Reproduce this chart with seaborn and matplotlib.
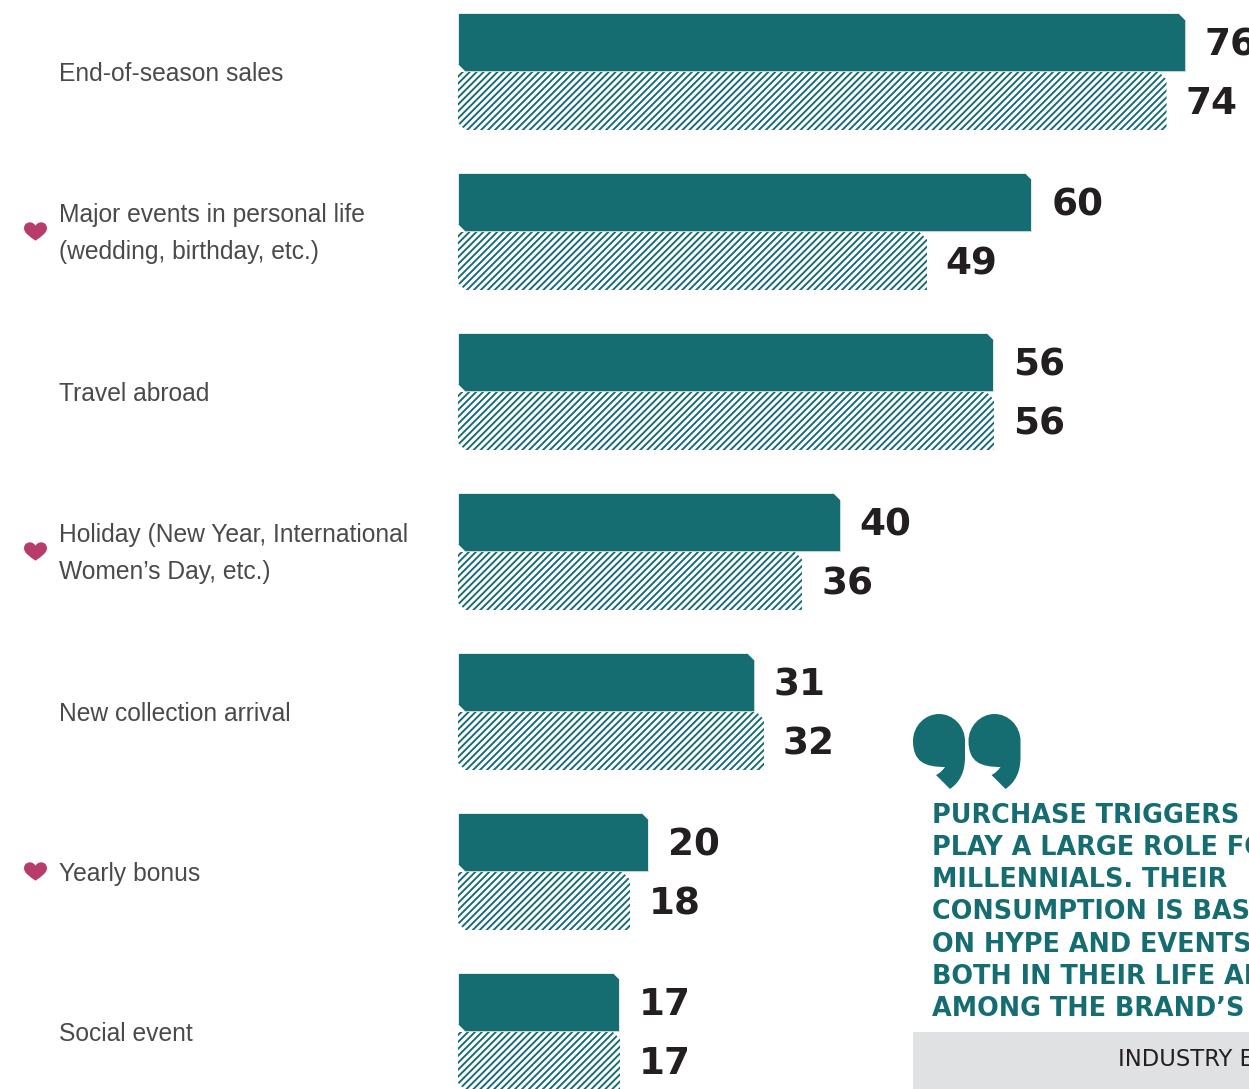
import matplotlib
matplotlib.use("Agg")
import matplotlib.pyplot as plt
from matplotlib.patches import PathPatch, Polygon, Rectangle
from matplotlib.path import Path
from matplotlib.transforms import ScaledTranslation, blended_transform_factory
import pandas as pd
import seaborn as sns

triggers = [
    "End-of-season sales",
    "Major events in personal life\n(wedding, birthday, etc.)",
    "Travel abroad",
    "Holiday (New Year, International\nWomen\u2019s Day, etc.)",
    "New collection arrival",
    "Yearly bonus",
    "Social event",
]
solid_values = [76, 60, 56, 40, 31, 20, 17]
hatched_values = [74, 49, 56, 36, 32, 18, 17]
heart_flags = [False, True, False, True, False, True, False]
quote_lines = [
    "PURCHASE TRIGGERS",
    "PLAY A LARGE ROLE FOR",
    "MILLENNIALS. THEIR",
    "CONSUMPTION IS BASED",
    "ON HYPE AND EVENTS",
    "BOTH IN THEIR LIFE AND",
    "AMONG THE BRAND\u2019S",
]
quote_source = "INDUSTRY EXPERT"

TEAL = "#156D72"
INK = "#231F20"
LABEL = "#4A4A4C"
ROSE = "#B93B69"
PANEL = "#E0E1E3"
W, H, DPI = 1249, 1089, 125

sns.set_theme(style="white")
plt.rcParams["hatch.linewidth"] = 1.1

frame = pd.DataFrame({
    "trigger": triggers * 2,
    "share": solid_values + hatched_values,
    "group": ["solid"] * len(triggers) + ["hatched"] * len(triggers),
})

fig = plt.figure(figsize=((W + 0.01) / DPI, (H + 0.01) / DPI), dpi=DPI, facecolor="white")
PX_PER_UNIT = 9.58
PX_PER_ROW = 160
AX_LEFT = 457.6
ax = fig.add_axes([AX_LEFT / W, 0, 1 - AX_LEFT / W, 1])
sns.barplot(
    data=frame, y="trigger", x="share", hue="group", orient="y", width=0.735,
    palette={"solid": TEAL, "hatched": "white"}, legend=False, ax=ax, saturation=1,
)
ax.set_xlim(0, (W - AX_LEFT) / PX_PER_UNIT)
ax.set_ylim((H - 71.6) / PX_PER_ROW, -71.6 / PX_PER_ROW)
ax.set_xlabel("")
ax.set_ylabel("")
ax.set_xticks([])
sns.despine(ax=ax, left=True, bottom=True)

# Row labels sit far left of the bars, flush to a common left edge.
ax.tick_params(axis="y", length=0, pad=(AX_LEFT - 59) * 72 / DPI)
nudge_down = ScaledTranslation(0, -2 / DPI, fig.dpi_scale_trans)
for tick in ax.get_yticklabels():
    tick.set_ha("left")
    tick.set_va("center")
    tick.set_fontfamily("Liberation Sans")
    tick.set_fontsize(14.2)
    tick.set_color(LABEL)
    tick.set_linespacing(1.71)
    tick.set_transform(tick.get_transform() + nudge_down)

solid, hatched = ax.containers[0], ax.containers[1]
for bar in hatched:
    bar.set_facecolor("white")
    bar.set_edgecolor(TEAL)
    bar.set_hatch("//////")
    bar.set_linewidth(0)

# Clip opposing corners of every bar so they read as cut tags.
cut_x, cut_y = 8 / PX_PER_UNIT, 8 / PX_PER_ROW
for bar in list(solid) + list(hatched):
    x0, y0 = bar.get_x(), bar.get_y()
    x1, y1 = x0 + bar.get_width(), y0 + bar.get_height()
    outline = Polygon(
        [(x0, y0), (x1 - cut_x, y0), (x1, y0 + cut_y), (x1, y1),
         (x0 + cut_x, y1), (x0, y1 - cut_y)],
        closed=True, transform=ax.transData,
    )
    bar.set_clip_path(outline)

for container in (solid, hatched):
    labels = ax.bar_label(container, padding=10.8, fontsize=21.5, fontweight="bold",
                          fontfamily="DejaVu Sans", color=INK, clip_on=False)
    for label in labels:
        label.xyann = (label.xyann[0], -1.6)

# Overlay in image-like pixel coordinates for the pull quote and row markers.
overlay = fig.add_axes([0, 0, 1, 1], facecolor="none")
overlay.set_xlim(0, W)
overlay.set_ylim(H, 0)
overlay.axis("off")

heart = Path(
    [(0, -0.8), (-0.5, -0.45), (-1, -0.15), (-1, 0.3), (-1, 0.65), (-0.72, 0.8), (-0.48, 0.8),
     (-0.25, 0.8), (-0.08, 0.65), (0, 0.5), (0.08, 0.65), (0.25, 0.8), (0.48, 0.8),
     (0.72, 0.8), (1, 0.65), (1, 0.3), (1, -0.15), (0.5, -0.45), (0, -0.8)],
    [Path.MOVETO] + [Path.CURVE4] * 18,
)
row_in_px = blended_transform_factory(overlay.transData, ax.transData)
for row, flagged in enumerate(heart_flags):
    if flagged:
        overlay.plot([34.5], [row - 0.006], marker=heart, markersize=13.2, color=ROSE,
                     markeredgewidth=0, transform=row_in_px, clip_on=False)


def quote_mark(dx):
    verts = [
        (965 + dx, 741), (965 + dx, 726), (953 + dx, 714), (939 + dx, 714),
        (925 + dx, 714), (913 + dx, 726), (913 + dx, 741),
        (913 + dx, 762), (925 + dx, 767), (945 + dx, 767),
        (942 + dx, 771), (940 + dx, 773), (936 + dx, 775),
        (950 + dx, 789),
        (960 + dx, 782), (965 + dx, 772), (965 + dx, 757),
        (965 + dx, 741),
    ]
    codes = [Path.MOVETO] + [Path.CURVE4] * 12 + [Path.LINETO] + [Path.CURVE4] * 3 + [Path.LINETO]
    return PathPatch(Path(verts, codes), facecolor=TEAL, edgecolor="none")


overlay.add_patch(quote_mark(0))
overlay.add_patch(quote_mark(55.5))

for i, line in enumerate(quote_lines):
    overlay.text(932, 816 + i * 32.15, line, color=TEAL, fontsize=14.7, fontweight="bold",
                 family="DejaVu Sans", va="center", ha="left")

overlay.add_patch(Rectangle((913, 1032), W - 913, H - 1032, facecolor=PANEL, edgecolor="none"))
overlay.text(1118, 1059, quote_source, color=INK, fontsize=13, family="DejaVu Sans",
             va="center", ha="left")

fig.savefig("out.png", dpi=DPI, facecolor="white")
